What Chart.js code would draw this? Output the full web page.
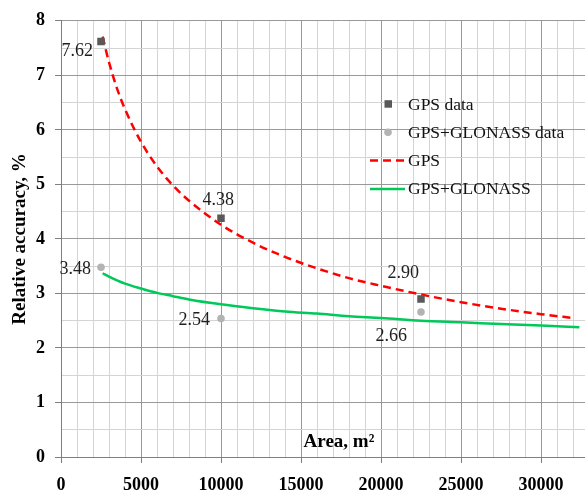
<!DOCTYPE html>
<html>
<head>
<meta charset="utf-8">
<script src="https://cdn.jsdelivr.net/npm/chart.js@4"></script>
<style>
  html, body { margin: 0; padding: 0; background: #fff; overflow: hidden; }
  canvas { display: block; }
</style>
</head>
<body>
<canvas id="accChart" width="680" height="493"></canvas>
<script>
// measured points
const gpsDataX = [2500, 10000, 22500];
const gpsDataY = [7.62, 4.38, 2.90];
const glonassDataX = [2500, 10000, 22500];
const glonassDataY = [3.48, 2.54, 2.66];

// trend lines
const gpsFitX = [2600, 3000, 3500, 4000, 5000, 6000, 7000, 8000, 10000, 12000, 14000, 16000, 18000, 20000, 22500, 25000, 27500, 30000, 32000];
const gpsFitY = [7.71, 7.24, 6.76, 6.38, 5.78, 5.33, 4.98, 4.70, 4.26, 3.93, 3.67, 3.46, 3.28, 3.14, 2.98, 2.84, 2.72, 2.62, 2.55];
const glonassFitX = [2600, 3000, 3500, 4000, 5000, 6000, 7000, 8000, 10000, 12000, 14000, 16000, 18000, 20000, 22500, 25000, 27500, 30000, 32400];
const glonassFitY = [3.37, 3.31, 3.24, 3.18, 3.09, 3.01, 2.95, 2.89, 2.80, 2.73, 2.67, 2.63, 2.58, 2.55, 2.50, 2.47, 2.44, 2.41, 2.38];

const seriesNames = ["GPS data", "GPS+GLONASS data", "GPS", "GPS+GLONASS"];
const xTitle = "Area, m\u00b2";
const yTitle = "Relative accuracy, %";

const SERIF = '"Liberation Serif", "Times New Roman", serif';
const MAJOR = "#999999";
const MINOR = "#d4d4d4";

// where each value label sits relative to its point (right edge, middle)
const labelOffsets = [
  [[-8, 10], [13, -18], [-2, -26]],
  [[-10, 2], [-11, 1.5], [-14, 24]]
];

function toPoints(xs, ys) {
  return xs.map((x, i) => ({ x: x, y: ys[i] }));
}

const valueLabels = {
  id: "valueLabels",
  afterDatasetsDraw(chart) {
    const ctx = chart.ctx;
    ctx.save();
    ctx.font = "18px " + SERIF;
    ctx.fillStyle = "#1e1e1e";
    ctx.textAlign = "right";
    ctx.textBaseline = "middle";
    [0, 1].forEach(di => {
      const meta = chart.getDatasetMeta(di);
      const ds = chart.data.datasets[di];
      meta.data.forEach((pt, j) => {
        const off = labelOffsets[di][j];
        ctx.fillText(ds.data[j].y.toFixed(2), pt.x + off[0], pt.y + off[1]);
      });
    });
    ctx.restore();
  }
};

const insideLegend = {
  id: "insideLegend",
  afterDraw(chart) {
    const ctx = chart.ctx;
    const x0 = 370, y0 = 104, rowH = 28.3;
    ctx.save();
    chart.data.datasets.forEach((ds, i) => {
      const y = y0 + i * rowH;
      if (ds.showLine) {
        ctx.strokeStyle = ds.borderColor;
        ctx.lineWidth = ds.borderWidth;
        ctx.setLineDash(ds.borderDash || []);
        ctx.beginPath();
        ctx.moveTo(x0, y);
        ctx.lineTo(x0 + 35, y);
        ctx.stroke();
        ctx.setLineDash([]);
      } else {
        ctx.fillStyle = ds.backgroundColor;
        if (ds.pointStyle === "rect") {
          ctx.fillRect(x0 + 14.5, y - 3.8, 7.5, 7.5);
        } else {
          ctx.beginPath();
          ctx.arc(x0 + 18, y, ds.pointRadius, 0, Math.PI * 2);
          ctx.fill();
        }
      }
      ctx.font = "17.5px " + SERIF;
      ctx.fillStyle = "#111";
      ctx.textAlign = "left";
      ctx.textBaseline = "middle";
      ctx.fillText(seriesNames[i], x0 + 38, y + 1);
    });
    ctx.restore();
  }
};

const innerXTitle = {
  id: "innerXTitle",
  afterDraw(chart) {
    const ctx = chart.ctx;
    const xs = chart.scales.x, ys = chart.scales.y;
    ctx.save();
    ctx.font = "bold 19px " + SERIF;
    ctx.fillStyle = "#000";
    ctx.textAlign = "center";
    ctx.textBaseline = "middle";
    ctx.fillText(xTitle, (xs.left + xs.right) / 2 - 2, ys.getPixelForValue(0) - 15);
    ctx.restore();
  }
};

new Chart(document.getElementById("accChart"), {
  type: "scatter",
  data: {
    datasets: [
      {
        label: seriesNames[0],
        data: toPoints(gpsDataX, gpsDataY),
        pointStyle: "rect",
        pointRadius: 5.3,
        borderWidth: 0,
        backgroundColor: "#595959",
        showLine: false
      },
      {
        label: seriesNames[1],
        data: toPoints(glonassDataX, glonassDataY),
        pointStyle: "circle",
        pointRadius: 3.8,
        borderWidth: 0,
        backgroundColor: "#b3b3b3",
        showLine: false
      },
      {
        label: seriesNames[2],
        data: toPoints(gpsFitX, gpsFitY),
        showLine: true,
        pointRadius: 0,
        borderColor: "#ff0000",
        borderWidth: 2.5,
        borderDash: [8, 5],
        cubicInterpolationMode: "monotone"
      },
      {
        label: seriesNames[3],
        data: toPoints(glonassFitX, glonassFitY),
        showLine: true,
        pointRadius: 0,
        borderColor: "#00c85a",
        borderWidth: 2.5,
        cubicInterpolationMode: "monotone"
      }
    ]
  },
  options: {
    responsive: false,
    animation: false,
    layout: { padding: { top: 17, right: 59, left: 0, bottom: 0 } },
    plugins: {
      legend: { display: false },
      tooltip: { enabled: false }
    },
    scales: {
      x: {
        type: "linear",
        min: 0,
        max: 35000,
        afterFit: s => { s.height = 36; },
        border: { color: "#7f7f7f" },
        grid: {
          lineWidth: 1,
          tickLength: 6,
          color: c => (c.tick && c.tick.value % 5000 === 0) ? MAJOR : MINOR,
          tickColor: c => (c.tick && c.tick.value % 5000 === 0) ? "#7f7f7f" : "rgba(0,0,0,0)"
        },
        ticks: {
          stepSize: 1000,
          maxTicksLimit: 100,
          autoSkip: false,
          maxRotation: 0,
          padding: 12,
          color: "#000",
          font: { family: SERIF, size: 18, weight: "bold" },
          callback: v => (v % 5000 === 0 ? String(v) : "")
        }
      },
      y: {
        min: 0,
        max: 8,
        afterFit: s => { s.width = 61; },
        border: { color: "#7f7f7f" },
        grid: {
          lineWidth: 1,
          tickLength: 6,
          color: c => (c.tick && c.tick.value % 1 === 0) ? MAJOR : MINOR,
          tickColor: c => (c.tick && c.tick.value % 1 === 0) ? "#7f7f7f" : "rgba(0,0,0,0)"
        },
        ticks: {
          stepSize: 0.5,
          maxTicksLimit: 100,
          autoSkip: false,
          padding: 10,
          color: "#000",
          font: { family: SERIF, size: 18, weight: "bold" },
          callback: v => (v % 1 === 0 ? String(v) : "")
        },
        title: {
          display: true,
          text: yTitle,
          color: "#000",
          padding: { top: 9, bottom: 0 },
          font: { family: SERIF, size: 19, weight: "bold" }
        }
      }
    }
  },
  plugins: [valueLabels, insideLegend, innerXTitle]
});
</script>
</body>
</html>
